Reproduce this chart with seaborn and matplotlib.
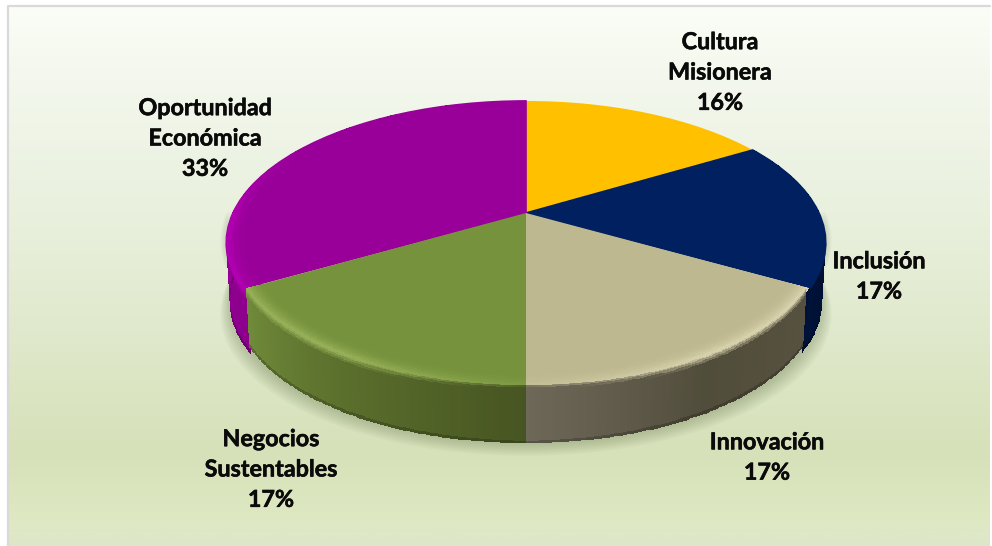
import numpy as np
import seaborn as sns
import matplotlib.pyplot as plt
import matplotlib.patheffects as pe
from matplotlib.colors import to_rgb
from matplotlib.transforms import Transform

categorias = ['Cultura\nMisionera', 'Inclusión', 'Innovación', 'Negocios\nSustentables', 'Oportunidad\nEconómica']
valores = [16.4, 16.8, 16.8, 16.7, 33.3]
etiquetas_pct = ['16%', '17%', '17%', '17%', '33%']
colores = ['#FFC000', '#002060', '#BDB88F', '#76923C', '#990099']
brillo = [None, None, '#D9D3AE', '#98B25A', '#B400B4']
pared = [
    ['#FFC000', '#FFC000'],
    ['#000C2C', '#001238'],
    ['#57523F', '#514D3B', '#6E6858'],
    ['#475522', '#5A6E2C', '#708B3A'],
    ['#8B008B', '#A300A3', '#A300A3'],
]
etiq_x = [720, 879, 767, 271, 205]
etiq_y = [73, 277, 458, 470, 139]

# geometria de la perspectiva (en pixeles)
CX, CY, RX, RY, K = 526, 213, 293, 135.7, 0.211
GROSOR = 58
ESC_FRENTE = 0.986  # las porciones del frente quedan algo mas angostas


class Perspectiva(Transform):
    input_dims = output_dims = 2

    def __init__(self, esc=1.0):
        super().__init__()
        self.esc = esc

    def transform_non_affine(self, xy):
        xy = np.asarray(xy)
        w = 1 + K * xy[:, 1]
        return np.column_stack([CX + self.esc * RX * xy[:, 0] / w, CY - RY * xy[:, 1] / w])


def proyectar(theta, r=1.0, t=0.0, esc=1.0):
    u, v = r * np.sin(theta), r * np.cos(theta)
    w = 1 + K * v
    x = CX + esc * (RX * u / w) * (1 - 0.012 * t)
    y = CY - RY * v / w + GROSOR * t
    return x, y


sns.set_theme(style='white')
plt.rcParams['font.family'] = ['Lato', 'DejaVu Sans']

fig = plt.figure(figsize=(9.92, 5.46), dpi=100)
ax = fig.add_axes([0, 0, 1, 1])

wedges, _ = ax.pie(valores, colors=colores, startangle=90, counterclock=False,
                   wedgeprops={'linewidth': 0, 'antialiased': True})
for i, w in enumerate(wedges):
    w.set_transform(Perspectiva(ESC_FRENTE if i in (2, 3) else 1.0) + ax.transData)
    w.set_zorder(5 if i in (2, 3) else 3.5)
    if i in (1, 4):
        # tapa la rendija con las porciones del frente
        w.set_edgecolor(colores[i])
        w.set_linewidth(1.2)

# fondo con degradado y borde gris
pos_y = [0, 60, 250, 450, 520, 546]
col_y = ['#FAFEF6', '#F4F8EF', '#E6EED8', '#D6E1B9', '#DEE9C3', '#DEE6CA']
ys = np.arange(546)
rgb = np.array([to_rgb(c) for c in col_y])
grad = np.stack([np.interp(ys, pos_y, rgb[:, i]) for i in range(3)], axis=1)[:, None, :]
ax.imshow(grad, extent=(8, 990, 546, 7), aspect='auto', zorder=0)
ax.set_xlim(0, 992)
ax.set_ylim(546, 0)
ax.set_aspect('auto')
ax.plot([8, 8, 990], [546, 6, 6], color='#D9D9D9', lw=1.6, zorder=1)

# sombra suave bajo el pastel
ang = np.linspace(np.pi / 2, 3 * np.pi / 2, 120)
for i in range(9):
    sx, sy = proyectar(ang, 1.0, 1.0)
    sx = CX + (sx - CX) * (1.0 + 0.004 * i)
    ax.fill(np.r_[sx, sx[::-1]], np.r_[sy + i * 1.6, sy[::-1] - 60], color='#4A5A30',
            alpha=0.035, lw=0, zorder=2)

# paredes y biseles de cada porcion, de atras hacia adelante
for idx in [1, 4, 2, 3]:
    w = wedges[idx]
    # el pie devuelve angulos antihorarios desde +x; se pasan a horario desde arriba
    t1 = np.deg2rad(90 - w.theta2)
    t2 = np.deg2rad(90 - w.theta1)
    frente = idx in (2, 3)
    esc = ESC_FRENTE if frente else 1.0
    th = np.linspace(t1, t2, 90)
    if not frente:
        # las paredes de atras siguen un poco por detras de las del frente
        th = np.linspace(t1 - 0.05, t2, 90) if idx == 4 else np.linspace(t1, t2 + 0.05, 90)
    stops = np.array([to_rgb(c) for c in pared[idx]])
    fr = np.linspace(0, 1, len(stops))
    fth = (th[:-1] + th[1:]) / 2
    fdeg = np.rad2deg(fth) % 360
    fth = (fth - th[0]) / (th[-1] - th[0])
    base = np.stack([np.interp(fth, fr, stops[:, i]) for i in range(3)], axis=1)

    # intensidad del brillo a lo largo del borde
    if idx == 4:
        fuerza = np.clip((300 - fdeg) / 35, 0, 1)
    elif idx == 3:
        fuerza = np.clip(0.25 + 0.75 * (fdeg - 180) / 30, 0.25, 1)
    else:
        fuerza = np.clip(0.25 + 0.75 * (180 - fdeg) / 30, 0.25, 1)

    # pared
    hh = np.linspace(0, 1, 26)
    T, H = np.meshgrid(th, hh)
    X, Y = proyectar(T, 1.0, H, esc)
    Hc = (hh[:-1] + hh[1:]) / 2
    col = np.zeros((len(Hc), len(fdeg), 3))
    tope = to_rgb(brillo[idx]) if brillo[idx] else None
    for j, h in enumerate(Hc):
        fila = base.copy()
        if tope is not None and h < 0.14:
            f = (h / 0.14 + (1 - fuerza)).clip(0, 1)[:, None]
            fila = tope * (1 - f) + base * f
        if h > 0.94:
            fila = fila * (1 - (h - 0.94) * 5)
        col[j] = fila
    ax.pcolormesh(X, Y, col, shading='flat', linewidth=0, edgecolors='face',
                  antialiased=False, zorder=4 if frente else 3)

    # bisel sobre la cara superior
    if brillo[idx]:
        rr = np.linspace(0.94, 1.0, 10)
        T, R = np.meshgrid(th, rr)
        X, Y = proyectar(T, R, 0.0, esc)
        rc = (rr[:-1] + rr[1:]) / 2
        col = np.zeros((len(rc), len(fdeg), 3))
        for j, r in enumerate(rc):
            f = (((r - 0.94) / 0.06) ** 2 * fuerza)[:, None]
            col[j] = to_rgb(colores[idx]) * (1 - f) + np.asarray(to_rgb(brillo[idx])) * f
        ax.pcolormesh(X, Y, col, shading='flat', linewidth=0, edgecolors='face',
                      antialiased=False, zorder=6 if frente else 3.6)

# etiquetas
for cat, pct, x, y in zip(categorias, etiquetas_pct, etiq_x, etiq_y):
    ax.text(x, y, cat + '\n' + pct, ha='center', va='center', fontsize=16.8,
            fontweight='bold', color='#0A0A0A', linespacing=1.55, zorder=10,
            path_effects=[pe.withStroke(linewidth=0.4, foreground='#0A0A0A')])

ax.axis('off')
fig.savefig('out.png', dpi=100)
